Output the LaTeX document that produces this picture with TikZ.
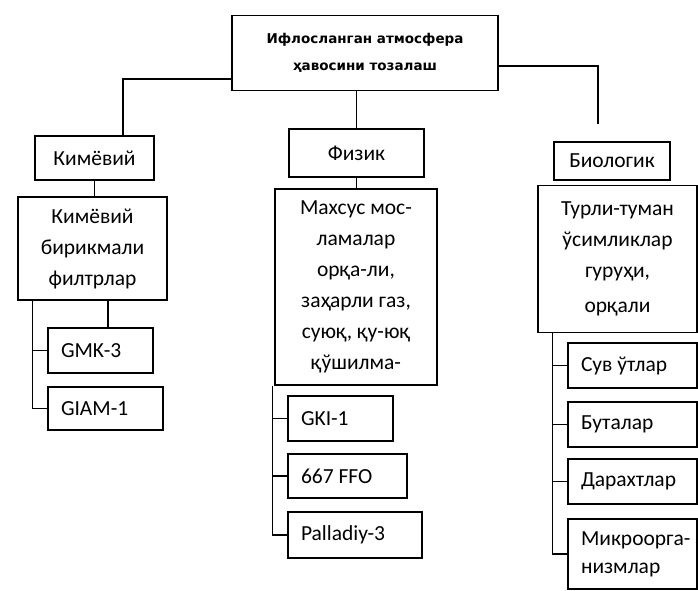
\documentclass[tikz,border=0pt]{standalone}
\usepackage{fontspec}
\setmainfont{Carlito}
\newfontfamily\topfont{DejaVu Sans}
\begin{document}
\begin{tikzpicture}[x=1pt,y=-1pt,
  box/.style={draw,line width=1.2pt,inner sep=0pt,align=center,font=\fontsize{21.5}{31}\selectfont},
  leaf/.style={draw,line width=1.2pt,inner ysep=0pt,inner xsep=13pt,font=\fontsize{21.5}{28}\selectfont,
    execute at begin node={\spaceskip=0pt\xspaceskip=0pt\relax}},
  conn/.style={line width=1.2pt}]
\useasboundingbox (0,0) rectangle (698,590);
% top
\node[box,minimum width=266pt,minimum height=75pt,font=\topfont\bfseries\fontsize{13.5}{27}\selectfont] (top) at (365,53) {Ифлосланган атмосфера\\ҳавосини тозалаш};
% left column
\node[box,minimum width=119pt,minimum height=44pt] (k1) at (94.5,158) {Кимёвий};
\node[box,minimum width=149pt,minimum height=103pt] (k2) at (92.5,248.5) {Кимёвий\\бирикмали\\филтрлар};
\node[leaf,text width=79pt,minimum height=45pt] (gmk) at (100.5,350.5) {GMK-3};
\node[leaf,text width=89pt,minimum height=43pt] (giam) at (105.5,408.5) {GIAM-1};
% middle column
\node[box,minimum width=135pt,minimum height=48pt] (fiz) at (356.5,153) {Физик};
\node[box,minimum width=162pt,minimum height=196pt] (m2) at (356,287) {Махсус мос-\\ламалар\\орқа-ли,\\заҳарли газ,\\суюқ, қу-юқ\\қўшилма-};
\node[leaf,text width=79pt,minimum height=45pt] (gki) at (340.5,418.5) {GKI-1};
\node[leaf,text width=93pt,minimum height=44pt] (ffo) at (347.5,476) {667 FFO};
\node[leaf,text width=108pt,minimum height=46pt] (pal) at (355,535) {Palladiy-3};
% right column
\node[box,minimum width=116pt,minimum height=38pt] (bio) at (612,161) {Биологик};
\node[box,minimum width=159pt,minimum height=147pt] (b2) at (617.5,259) {Турли-туман\\ўсимликлар\\гуруҳи,\\[4pt]орқали};
\node[leaf,text width=103pt,minimum height=45pt] (suv) at (632.5,365.5) {Сув ўтлар};
\node[leaf,text width=103pt,minimum height=45pt] (but) at (632.5,424.5) {Буталар};
\node[leaf,text width=103pt,minimum height=45pt] (dar) at (632.5,481.5) {Дарахтлар};
\node[leaf,text width=103pt,minimum height=70pt] (mik) at (632.5,554) {\mbox{Микроорга-}\\низмлар};
% connectors from top
\coordinate (bioend) at (598,124);
\draw[conn] ([yshift=-26pt]top.west) -| ([xshift=28.5pt]k1.north);
\draw[conn] (fiz.north |- top.south) -- (fiz.north);
\draw[conn] ([yshift=-13pt]top.east) -| (bioend);
% left
\draw[conn] (k1.south) -- (k1.south |- k2.north);
\draw[conn] ([xshift=7.5pt]gmk.north) -- ([xshift=7.5pt]gmk.north |- k2.south);
\coordinate (lb) at ([xshift=15pt]k2.south west);
\draw[conn] (lb) |- (giam.west);
\draw[conn] (lb |- gmk.west) -- (gmk.west);
% middle
\draw[conn] (fiz.south) -- (fiz.south |- m2.north);
\coordinate (mb) at ([xshift=-2pt]m2.south west);
\draw[conn] (mb) |- (pal.west);
\draw[conn] (mb |- gki.west) -- (gki.west);
\draw[conn] (mb |- ffo.west) -- (ffo.west);
% right
\coordinate (rb) at ([xshift=15pt]b2.south west);
\draw[conn] (rb) |- (mik.west);
\draw[conn] (rb |- suv.west) -- (suv.west);
\draw[conn] (rb |- but.west) -- (but.west);
\draw[conn] (rb |- dar.west) -- (dar.west);
\end{tikzpicture}
\end{document}
